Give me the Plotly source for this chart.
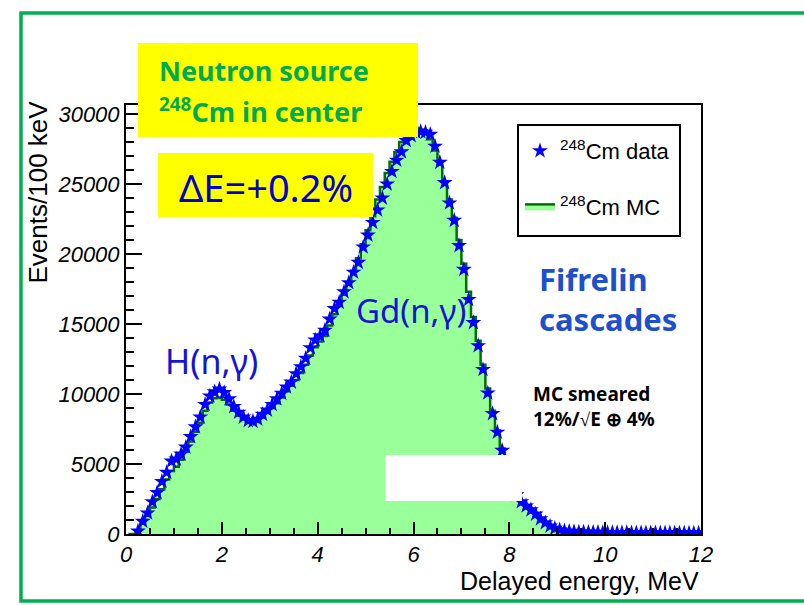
import numpy as np
import plotly.graph_objects as go

# ---------------- data (100 keV bins, 0-12 MeV) ----------------
bin_centers_mev = np.round(np.arange(0.05, 12.0, 0.1), 2)

cm248_data = [
    None, None, 200, 900, 1500, 2300, 2950, 3750, 4400, 5200,
    5350, 5700, 6200, 6950, 7650, 8350, 9250, 9850, 10150, 10350,
    10100, 9650, 9100, 8700, 8350, 8100, 8050, 8200, 8550, 8850,
    9250, 9650, 10050, 10500, 10850, 11450, 11950, 12550, 13300, 13850,
    14150, 14550, 15350, 16100, 16550, 17300, 17950, 18700, 19400, 20500,
    21350, 22250, 23150, 24000, 25000, 25900, 26700, 27300, 28100, 28450,
    28700, 28750, 28700, 28550, 27700, 26550, 25100, 23650, 22400, 20600,
    18900, 16750, 15100, 13450, 11750, 10070, 8600, 7270, 5970, 4700,
    3600, 2800, 2300, 2000, 1720, 1420, 1080, 800, 560, 400,
    300, 230, 190, 160, 140, 130, 120, 115, 110, 105,
    100, 95, 95, 90, 90, 85, 85, 80, 80, 75,
    75, 70, 70, 70, 65, 65, 65, 60, 60, 60,
]

cm248_mc = [
    0, 0, 250, 750, 1300, 1900, 2500, 3200, 3900, 4500,
    4800, 5300, 5900, 6600, 7300, 7950, 8800, 9400, 9700, 9750,
    9600, 9250, 8800, 8450, 8200, 8000, 7950, 8050, 8350, 8650,
    9000, 9350, 9750, 10200, 10600, 11000, 11500, 12100, 12750, 13350,
    13750, 14150, 14900, 15700, 16300, 17100, 17900, 18800, 19700, 20700,
    21700, 22700, 23900, 24800, 25800, 26600, 27300, 28000, 28600, 28900,
    29000, 28900, 28600, 28200, 27400, 26400, 25200, 23900, 22600, 21000,
    19300, 17300, 15500, 13800, 12100, 10400, 8800, 7400, 6100, 4900,
    3800, 2950, 2350, 2050, 1750, 1450, 1100, 820, 560, 380,
    260, 190, 150, 120, 110, 100, 95, 90, 85, 80,
    80, 75, 75, 70, 70, 65, 65, 60, 60, 55,
    55, 55, 50, 50, 50, 45, 45, 45, 40, 40,
]

x_tickvals = [0, 2, 4, 6, 8, 10, 12]
y_tickvals = [0, 5000, 10000, 15000, 20000, 25000, 30000]

# ---------------- layout geometry (pixels) ----------------
W, H = 804, 605
ML, MR, MT, MB = 126, 103, 105, 71
PW, PH = W - ML - MR, H - MT - MB


def px(xp):
    return (xp - ML) / PW


def py(yp):
    return (H - MB - yp) / PH


fig = go.Figure()

fig.add_trace(go.Scatter(
    x=bin_centers_mev, y=cm248_mc, mode="lines", line_shape="hvh",
    line=dict(color="rgb(0,110,0)", width=2.5),
    fill="tozeroy", fillcolor="rgb(153,255,153)",
    name="<sup>248</sup>Cm MC", legendrank=2, legendgroup="mc",
))
fig.add_trace(go.Scatter(
    x=bin_centers_mev, y=cm248_data, mode="markers",
    marker=dict(symbol="star", size=12, color="rgb(0,0,255)",
                line=dict(width=0)),
    name="<sup>248</sup>Cm data", legendrank=1, legendgroup="data",
))

axis_font = dict(family="Liberation Sans", size=22, color="black", style="italic")

fig.update_xaxes(
    range=[0, 12], tickvals=x_tickvals, ticks="inside", ticklen=12, tickwidth=1.5,
    tickcolor="black", showline=True, linecolor="black", linewidth=2, mirror=True,
    showgrid=False, zeroline=False, tickfont=axis_font,
    minor=dict(dtick=0.5, ticks="inside", ticklen=6, tickwidth=1.5, tickcolor="black",
               showgrid=False),
)
fig.update_yaxes(
    range=[0, 30650], tickvals=y_tickvals, tickformat="d", ticks="inside", ticklen=16,
    tickwidth=1.5, tickcolor="black", showline=True, linecolor="black", linewidth=2,
    mirror=True, showgrid=False, zeroline=False, tickfont=axis_font,
    minor=dict(dtick=1000, ticks="inside", ticklen=8, tickwidth=1.5, tickcolor="black",
               showgrid=False),
)

shapes = [
    # outer green frame
    dict(type="rect", xref="paper", yref="paper", x0=px(21), x1=px(807), y0=py(13), y1=py(601),
         line=dict(color="rgb(0,176,80)", width=3.5), fillcolor="rgba(0,0,0,0)", layer="above"),
    # yellow boxes
    dict(type="rect", xref="paper", yref="paper", x0=px(138), x1=px(418), y0=py(43), y1=py(137),
         line=dict(width=0), fillcolor="rgb(255,255,0)", layer="above"),
    dict(type="rect", xref="paper", yref="paper", x0=px(158), x1=px(373), y0=py(153), y1=py(217),
         line=dict(width=0), fillcolor="rgb(255,255,0)", layer="above"),
    # white patch
    dict(type="rect", xref="paper", yref="paper", x0=px(385.5), x1=px(522), y0=py(455), y1=py(501),
         line=dict(width=0), fillcolor="white", layer="above"),
    # legend frame
    dict(type="rect", xref="paper", yref="paper", x0=px(518), x1=px(680), y0=py(125), y1=py(236),
         line=dict(color="black", width=2), fillcolor="white", layer="above"),
]

comic = "Noto Sans"
ann = []


def add_text(text, xp, yp, size, color, bold=False, xanchor="left", yanchor="middle",
             family=comic, angle=0, style="normal", align="left"):
    ann.append(dict(
        text=text, x=px(xp), y=py(yp), xref="paper", yref="paper", showarrow=False,
        xanchor=xanchor, yanchor=yanchor, textangle=angle, align=align,
        font=dict(family=family, size=size, color=color,
                  weight="bold" if bold else "normal", style=style),
    ))


green = "rgb(0,170,80)"
add_text("Neutron source", 157, 70, 27, green, bold=True)
add_text("<sup>248</sup>Cm in center", 157, 111, 27, green, bold=True)
add_text("ΔE=+0.2%", 266, 187, 38, "rgb(0,0,210)", xanchor="center")
add_text("H(n,γ)", 211, 361, 34, "rgb(20,20,210)", xanchor="center")
add_text("Gd(n,γ)", 411, 310, 33, "rgb(20,20,210)", xanchor="center")
add_text("Fifrelin<br>cascades", 537, 299, 31, "rgb(30,80,205)", bold=True)
add_text("MC smeared<br>12%/√E ⊕ 4%", 531, 407, 19, "black", bold=True)
add_text("Delayed energy, MeV", 701, 581, 25, "black", xanchor="right",
         family="Liberation Sans")
add_text("Events/100 keV", 37, 99, 26, "black", xanchor="center", yanchor="top",
         family="Liberation Sans", angle=-90)

fig.update_layout(
    width=W, height=H, margin=dict(l=ML, r=MR, t=MT, b=MB),
    paper_bgcolor="white", plot_bgcolor="white",
    shapes=shapes, annotations=ann,
    showlegend=True,
    legend=dict(x=px(520), y=py(130), xanchor="left", yanchor="top",
                bgcolor="rgba(0,0,0,0)", borderwidth=0,
                font=dict(family="Liberation Sans", size=22, color="black"),
                tracegroupgap=24, itemwidth=30),
)

fig.write_html("out.html")
